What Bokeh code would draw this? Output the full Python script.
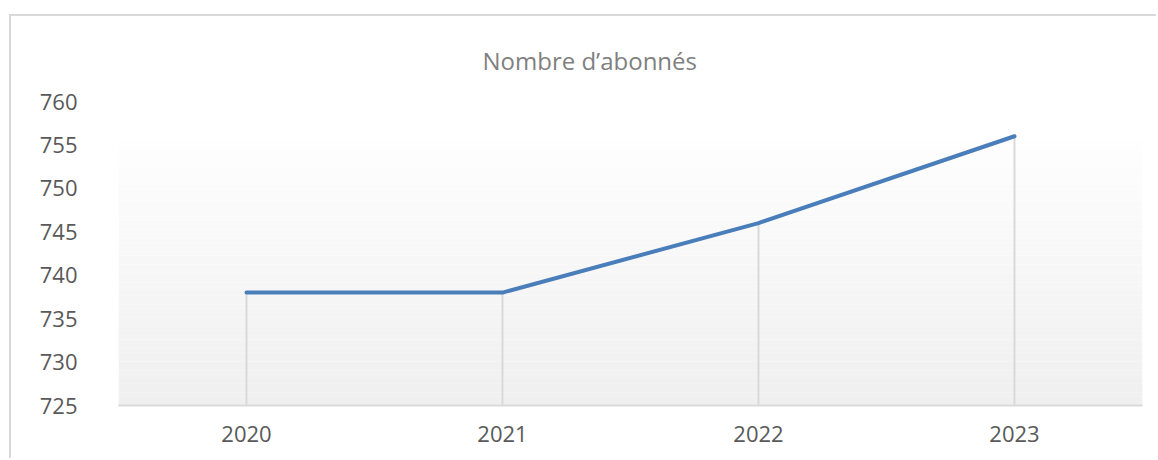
from bokeh.plotting import figure
from bokeh.models import Range1d, FactorRange
from bokeh.embed import file_html
from bokeh.resources import INLINE

# ---- data ----
years = ["2020", "2021", "2022", "2023"]
subscribers = [738, 738, 746, 756]
y_ticks = [725, 730, 735, 740, 745, 750, 755, 760]
title_text = "Nombre d’abonnés"

Y_MIN, Y_MAX = 725, 760
FONT = "Open Sans"

p = figure(
    width=1147, height=444,
    x_range=FactorRange(factors=years, range_padding=0),
    y_range=Range1d(Y_MIN, Y_MAX),
    output_backend="svg", toolbar_location=None,
    min_border_left=107, min_border_right=16,
    min_border_top=85, min_border_bottom=55,
    title=title_text,
)
p.margin = (16, 0, 0, 11)
p.styles = {"box-shadow": "-2px -2px 0px 0px #d9d9d9"}
p.outline_line_color = None
p.background_fill_color = "white"
p.border_fill_color = "white"
p.xgrid.grid_line_color = None
p.ygrid.grid_line_color = None

p.title.align = "left"
p.title.offset = 364
p.title.standoff = 49
p.title.text_font = FONT
p.title.text_font_size = "24px"
p.title.text_font_style = "normal"
p.title.text_color = "#808080"

# gradient plot-area background (stripes)
grad_top = 755.4
n = 60
bottom_rgb = (239, 239, 239)
top_rgb = (254, 254, 254)
bots, tops, cols = [], [], []
for i in range(n):
    b = Y_MIN + (grad_top - Y_MIN) * i / n
    t = Y_MIN + (grad_top - Y_MIN) * (i + 1) / n
    f = (i + 0.5) / n
    c = tuple(int(round(bottom_rgb[k] + (top_rgb[k] - bottom_rgb[k]) * f)) for k in range(3))
    bots.append(b)
    tops.append(t)
    cols.append("#%02x%02x%02x" % c)
p.quad(left=0, right=len(years), bottom=bots, top=tops, fill_color=cols, line_color=None)

# drop lines
p.segment(x0=years, y0=[Y_MIN] * len(years), x1=years, y1=subscribers,
          line_color="#d9d9d9", line_width=2)

# main line
p.line(years, subscribers, line_color="#4a7ebb", line_width=4,
       line_cap="round", line_join="round")

# axes
p.yaxis.ticker = y_ticks
p.yaxis.axis_line_color = None
p.yaxis.major_tick_line_color = None
p.yaxis.minor_tick_line_color = None
p.yaxis.major_tick_in = 0
p.yaxis.major_tick_out = 0
p.yaxis.major_label_standoff = 41
p.yaxis.major_label_text_font = FONT
p.yaxis.major_label_text_font_size = "22px"
p.yaxis.major_label_text_color = "#595959"

p.xaxis.axis_line_color = "#d9d9d9"
p.xaxis.axis_line_width = 2
p.xaxis.major_tick_line_color = None
p.xaxis.minor_tick_line_color = None
p.xaxis.major_tick_in = 0
p.xaxis.major_tick_out = 0
p.xaxis.major_label_standoff = 20
p.xaxis.major_label_text_font = FONT
p.xaxis.major_label_text_font_size = "22px"
p.xaxis.major_label_text_color = "#595959"

open("out.html", "w").write(file_html(p, INLINE))
